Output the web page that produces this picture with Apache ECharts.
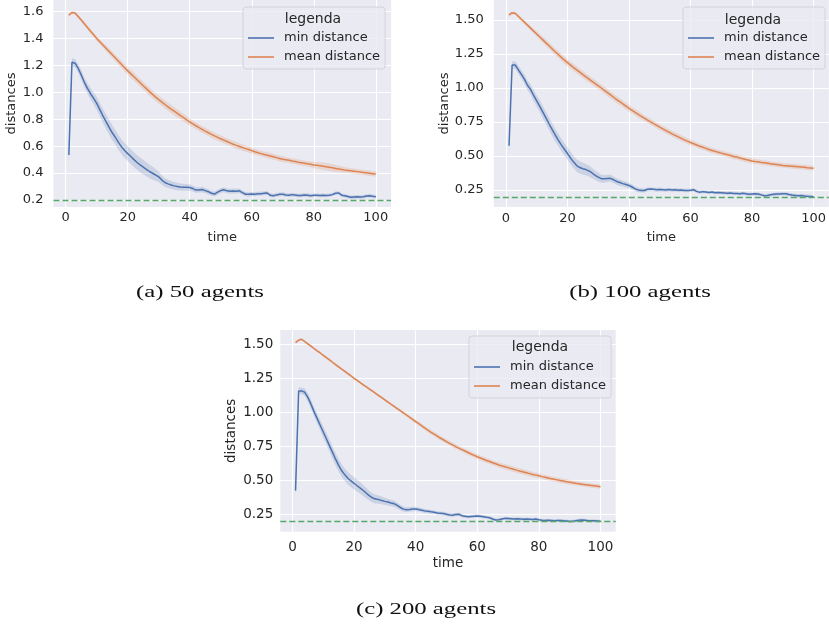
<!DOCTYPE html>
<html><head><meta charset="utf-8">
<script src="https://cdn.jsdelivr.net/npm/echarts@6/dist/echarts.min.js"></script>
<style>html,body{margin:0;padding:0;background:#fff}#c{width:829px;height:632px}</style>
</head><body><div id="c"></div><script>
const time = [1,2,3,4,5,6,7,8,9,10,11,12,13,14,15,16,17,18,19,20,21,22,23,24,25,26,27,28,29,30,31,32,33,34,35,36,37,38,39,40,41,42,43,44,45,46,47,48,49,50,51,52,53,54,55,56,57,58,59,60,61,62,63,64,65,66,67,68,69,70,71,72,73,74,75,76,77,78,79,80,81,82,83,84,85,86,87,88,89,90,91,92,93,94,95,96,97,98,99,100];
const xTicks = [0,20,40,60,80,100];
const yTicksA = [0.2,0.4,0.6,0.8,1.0,1.2,1.4,1.6];
const yTicksBC = [0.25,0.5,0.75,1.0,1.25,1.5];
const seriesNames = ['min distance','mean distance'];
const legendTitle = 'legenda';
const xName = 'time', yName = 'distances';
const captions = ['(a) 50 agents','(b) 100 agents','(c) 200 agents'];
const threshold = 0.2;

// (a) 50 agents
const meanA = [1.575,1.594,1.59,1.565,1.538,1.51,1.483,1.455,1.428,1.40,
1.376,1.352,1.328,1.304,1.28,1.256,1.232,1.208,1.184,1.16,
1.138,1.116,1.094,1.072,1.05,1.028,1.006,0.985,0.965,0.946,
0.928,0.91,0.893,0.876,0.86,0.844,0.828,0.812,0.796,0.78,
0.766,0.752,0.738,0.725,0.712,0.7,0.688,0.677,0.666,0.655,
0.645,0.635,0.625,0.615,0.606,0.598,0.59,0.582,0.575,0.567,
0.559,0.552,0.545,0.539,0.533,0.527,0.521,0.515,0.509,0.503,
0.499,0.495,0.49,0.486,0.481,0.477,0.473,0.469,0.465,0.461,
0.458,0.455,0.451,0.447,0.443,0.439,0.435,0.431,0.427,0.423,
0.42,0.417,0.414,0.411,0.408,0.405,0.402,0.399,0.396,0.393];
const meanBandA = [0.012,0.012,0.012,0.014,0.014,0.016,0.016,0.018,0.018,0.02,
0.02,0.02,0.022,0.022,0.024,0.024,0.026,0.026,0.028,0.028,
0.03,0.03,0.03,0.03,0.03,0.03,0.03,0.03,0.03,0.03,
0.03,0.03,0.03,0.03,0.03,0.03,0.03,0.03,0.028,0.028,
0.026,0.026,0.026,0.026,0.025,0.025,0.025,0.025,0.025,0.025,
0.025,0.025,0.025,0.025,0.025,0.025,0.024,0.024,0.024,0.022,
0.022,0.022,0.022,0.022,0.022,0.022,0.022,0.022,0.022,0.022,
0.02,0.02,0.02,0.02,0.02,0.02,0.02,0.02,0.022,0.024,
0.025,0.026,0.028,0.028,0.028,0.028,0.026,0.025,0.024,0.022,
0.02,0.02,0.02,0.02,0.02,0.02,0.02,0.02,0.02,0.02];
const minA = [0.535,1.224,1.217,1.18,1.13,1.075,1.03,0.99,0.955,0.918,
0.872,0.826,0.782,0.74,0.7,0.665,0.628,0.595,0.568,0.545,
0.523,0.5,0.479,0.461,0.444,0.428,0.412,0.399,0.386,0.372,
0.348,0.33,0.32,0.312,0.305,0.3,0.296,0.294,0.294,0.293,
0.285,0.274,0.275,0.278,0.27,0.262,0.25,0.244,0.258,0.27,
0.276,0.268,0.265,0.267,0.266,0.268,0.255,0.243,0.242,0.244,
0.243,0.247,0.246,0.25,0.252,0.235,0.232,0.238,0.242,0.243,
0.238,0.236,0.24,0.237,0.233,0.234,0.238,0.236,0.232,0.235,
0.236,0.233,0.236,0.234,0.236,0.24,0.25,0.253,0.236,0.232,
0.226,0.22,0.223,0.224,0.222,0.225,0.23,0.232,0.228,0.225];
const minBandA = [0.1,0.03,0.03,0.032,0.035,0.038,0.04,0.042,0.045,0.048,
0.05,0.052,0.055,0.055,0.055,0.055,0.055,0.055,0.055,0.055,
0.055,0.055,0.055,0.055,0.055,0.052,0.05,0.048,0.045,0.04,
0.035,0.032,0.03,0.03,0.028,0.028,0.026,0.026,0.025,0.024,
0.022,0.02,0.02,0.02,0.02,0.02,0.018,0.018,0.018,0.018,
0.018,0.018,0.018,0.018,0.018,0.018,0.016,0.016,0.016,0.016,
0.015,0.015,0.015,0.015,0.015,0.015,0.014,0.014,0.014,0.014,
0.014,0.014,0.014,0.014,0.014,0.014,0.014,0.014,0.014,0.014,
0.013,0.013,0.013,0.013,0.013,0.013,0.013,0.013,0.013,0.013,
0.013,0.013,0.013,0.013,0.013,0.013,0.013,0.013,0.013,0.013];

// (b) 100 agents
const meanB = [1.537,1.552,1.549,1.527,1.505,1.484,1.462,1.44,1.418,1.397,
1.375,1.354,1.332,1.311,1.289,1.267,1.246,1.225,1.205,1.186,
1.168,1.15,1.133,1.116,1.099,1.082,1.065,1.049,1.032,1.016,
1.0,0.983,0.966,0.949,0.932,0.915,0.899,0.883,0.867,0.851,
0.836,0.821,0.806,0.792,0.778,0.764,0.751,0.738,0.725,0.712,
0.699,0.687,0.675,0.663,0.652,0.641,0.63,0.619,0.609,0.599,
0.59,0.581,0.572,0.564,0.556,0.548,0.541,0.534,0.527,0.521,
0.515,0.509,0.503,0.497,0.492,0.486,0.48,0.474,0.469,0.464,
0.46,0.457,0.453,0.45,0.447,0.443,0.44,0.437,0.434,0.431,
0.429,0.427,0.425,0.423,0.421,0.419,0.417,0.414,0.412,0.41];
const meanBandB = [0.012,0.012,0.012,0.014,0.014,0.016,0.016,0.018,0.018,0.02,
0.022,0.022,0.024,0.024,0.025,0.025,0.026,0.026,0.026,0.026,
0.026,0.026,0.026,0.026,0.026,0.026,0.026,0.026,0.026,0.026,
0.026,0.026,0.026,0.026,0.026,0.026,0.025,0.025,0.025,0.025,
0.024,0.024,0.024,0.024,0.022,0.022,0.022,0.022,0.022,0.022,
0.022,0.022,0.022,0.022,0.022,0.022,0.022,0.022,0.022,0.022,
0.02,0.02,0.02,0.02,0.02,0.02,0.02,0.02,0.02,0.02,
0.02,0.02,0.02,0.02,0.02,0.02,0.02,0.02,0.02,0.02,
0.018,0.018,0.018,0.018,0.018,0.018,0.018,0.018,0.018,0.018,
0.018,0.018,0.018,0.018,0.018,0.018,0.018,0.018,0.018,0.018];
const minB = [0.576,1.169,1.169,1.135,1.1,1.065,1.02,0.99,0.945,0.905,
0.865,0.822,0.78,0.737,0.695,0.655,0.617,0.582,0.55,0.518,
0.485,0.455,0.43,0.415,0.406,0.4,0.39,0.375,0.358,0.345,
0.333,0.332,0.335,0.336,0.325,0.313,0.305,0.297,0.29,0.283,
0.272,0.258,0.25,0.247,0.246,0.255,0.257,0.255,0.252,0.254,
0.252,0.25,0.253,0.25,0.252,0.249,0.25,0.247,0.246,0.248,
0.252,0.24,0.234,0.238,0.236,0.232,0.235,0.23,0.232,0.23,
0.228,0.226,0.228,0.225,0.225,0.222,0.226,0.222,0.218,0.22,
0.222,0.22,0.214,0.208,0.21,0.215,0.218,0.22,0.221,0.223,
0.222,0.217,0.213,0.21,0.207,0.209,0.206,0.204,0.203,0.201];
const minBandB = [0.06,0.028,0.028,0.03,0.032,0.034,0.036,0.038,0.04,0.042,
0.044,0.046,0.046,0.046,0.046,0.046,0.046,0.046,0.046,0.046,
0.046,0.046,0.046,0.046,0.044,0.042,0.04,0.038,0.035,0.032,
0.03,0.028,0.027,0.026,0.025,0.024,0.023,0.022,0.021,0.02,
0.019,0.018,0.017,0.016,0.015,0.014,0.014,0.014,0.014,0.014,
0.013,0.013,0.013,0.013,0.013,0.013,0.013,0.013,0.013,0.013,
0.012,0.012,0.012,0.012,0.012,0.012,0.012,0.012,0.012,0.012,
0.012,0.012,0.012,0.012,0.012,0.012,0.012,0.012,0.012,0.012,
0.012,0.012,0.012,0.012,0.012,0.012,0.012,0.012,0.012,0.012,
0.012,0.012,0.012,0.012,0.012,0.012,0.012,0.012,0.012,0.012];

// (c) 200 agents
const meanC = [1.512,1.53,1.537,1.52,1.503,1.486,1.469,1.452,1.436,1.419,
1.402,1.385,1.368,1.351,1.334,1.317,1.301,1.284,1.267,1.25,
1.234,1.218,1.202,1.186,1.17,1.155,1.139,1.123,1.107,1.091,
1.075,1.059,1.043,1.027,1.012,0.996,0.98,0.964,0.948,0.932,
0.916,0.9,0.884,0.868,0.853,0.839,0.825,0.811,0.798,0.785,
0.772,0.76,0.748,0.737,0.726,0.715,0.704,0.693,0.683,0.673,
0.664,0.655,0.646,0.638,0.629,0.621,0.613,0.606,0.599,0.593,
0.586,0.58,0.573,0.567,0.561,0.555,0.549,0.543,0.538,0.533,
0.527,0.522,0.517,0.512,0.507,0.503,0.498,0.494,0.49,0.486,
0.482,0.478,0.475,0.471,0.468,0.465,0.462,0.459,0.456,0.453];
const meanBandC = [0.008,0.008,0.008,0.008,0.009,0.009,0.009,0.009,0.01,0.01,
0.01,0.01,0.01,0.01,0.01,0.01,0.01,0.01,0.01,0.01,
0.01,0.01,0.01,0.01,0.01,0.01,0.01,0.01,0.01,0.01,
0.011,0.011,0.011,0.011,0.012,0.012,0.012,0.013,0.013,0.014,
0.014,0.015,0.015,0.016,0.016,0.016,0.017,0.017,0.017,0.017,
0.017,0.017,0.017,0.017,0.017,0.018,0.018,0.018,0.018,0.018,
0.018,0.018,0.018,0.018,0.018,0.018,0.02,0.02,0.02,0.02,
0.02,0.02,0.02,0.02,0.02,0.02,0.02,0.02,0.02,0.02,
0.018,0.018,0.018,0.018,0.018,0.018,0.018,0.018,0.018,0.018,
0.016,0.016,0.016,0.016,0.016,0.016,0.016,0.016,0.016,0.016];
const minC = [0.424,1.157,1.157,1.147,1.11,1.06,1.005,0.955,0.905,0.855,
0.805,0.755,0.705,0.655,0.61,0.57,0.54,0.515,0.495,0.478,
0.46,0.443,0.425,0.405,0.385,0.37,0.362,0.358,0.352,0.345,
0.34,0.333,0.328,0.315,0.3,0.288,0.284,0.286,0.289,0.289,
0.285,0.28,0.275,0.272,0.268,0.265,0.26,0.258,0.256,0.25,
0.245,0.243,0.248,0.25,0.24,0.235,0.232,0.234,0.236,0.238,
0.236,0.232,0.228,0.225,0.215,0.208,0.21,0.215,0.22,0.219,
0.218,0.215,0.217,0.215,0.213,0.216,0.214,0.212,0.215,0.21,
0.206,0.205,0.207,0.205,0.203,0.205,0.204,0.202,0.2,0.197,
0.198,0.203,0.206,0.208,0.206,0.203,0.202,0.203,0.201,0.199];
const minBandC = [0.06,0.025,0.025,0.028,0.03,0.032,0.034,0.036,0.038,0.04,
0.042,0.044,0.046,0.046,0.046,0.046,0.046,0.046,0.046,0.046,
0.044,0.042,0.04,0.038,0.036,0.034,0.032,0.03,0.028,0.026,
0.025,0.024,0.023,0.022,0.02,0.019,0.018,0.017,0.016,0.016,
0.015,0.015,0.015,0.014,0.014,0.013,0.013,0.013,0.013,0.013,
0.012,0.012,0.012,0.012,0.012,0.012,0.012,0.012,0.012,0.012,
0.011,0.011,0.011,0.011,0.011,0.011,0.011,0.011,0.011,0.011,
0.011,0.011,0.011,0.011,0.011,0.011,0.011,0.011,0.011,0.011,
0.011,0.011,0.011,0.011,0.011,0.011,0.011,0.011,0.011,0.011,
0.011,0.011,0.011,0.011,0.011,0.011,0.011,0.011,0.011,0.011];

const BLUE = '#4C72B0', ORANGE = '#DD8452', GREEN = '#55A868', TXT = '#262626', FONT = 'DejaVu Sans', BG = '#EAEAF2';

const panels = [
  {left:53.5, top:0, width:337.6, height:207, ymin:0.148, ymax:1.687, yticks:yTicksA, dec:1,
   min:minA, minBand:minBandA, mean:meanA, meanBand:meanBandA,
   legLeft:243, legTop:7, ltX:313, ltY:19, yGap:35, xGap:24, xMargin:4, yMargin:10, fs:13,
   capX:200, capY:293},
  {left:493.8, top:0, width:337.6, height:207, ymin:0.125, ymax:1.647, yticks:yTicksBC, dec:2,
   min:minB, minBand:minBandB, mean:meanB, meanBand:meanBandB,
   legLeft:683, legTop:7, ltX:753, ltY:20, yGap:40, xGap:24, xMargin:5, yMargin:10, fs:13,
   capX:640, capY:293},
  {left:280.3, top:330, width:335.4, height:201.7, ymin:0.122, ymax:1.605, yticks:yTicksBC, dec:2,
   min:minC, minBand:minBandC, mean:meanC, meanBand:meanBandC,
   legLeft:469, legTop:336, ltX:540, ltY:347, yGap:42, xGap:25, xMargin:9, yMargin:7, fs:13.5,
   capX:426, capY:610}
];

const pairs = v => time.map((t,i) => [t, v[i]]);

// confidence band drawn as one polygon through the axis scales
function bandSeries(i, v, b, color) {
  const data = time.map((t,k) => [t, +(v[k]-b[k]).toFixed(4), +(v[k]+b[k]).toFixed(4)]);
  return {type:'custom', xAxisIndex:i, yAxisIndex:i, silent:true, z:1, animation:false,
    data, encode:{x:0, y:[1,2]},
    renderItem:(params, api) => {
      if (params.dataIndex !== 0) return null;
      const up = data.map(d => api.coord([d[0], d[2]]));
      const dn = data.map(d => api.coord([d[0], d[1]])).reverse();
      return {type:'polygon', shape:{points: up.concat(dn)}, style:{fill:color}};
    }};
}

const grid = [], xAxis = [], yAxis = [], series = [], legend = [], graphic = [];
panels.forEach((p, i) => {
  grid.push({left:p.left, top:p.top, width:p.width, height:p.height, show:true, backgroundColor:BG, borderWidth:0, containLabel:false});
  xAxis.push({type:'value', gridIndex:i, min:-3.95, max:104.95,
    name:xName, nameLocation:'middle', nameGap:p.xGap, nameTextStyle:{fontFamily:FONT, fontSize:p.fs, color:TXT},
    axisLine:{show:false}, axisTick:{show:false, customValues:xTicks},
    axisLabel:{customValues:xTicks, margin:p.xMargin, fontFamily:FONT, fontSize:p.fs, color:TXT},
    splitLine:{show:true, lineStyle:{color:'#ffffff', width:1.1}}});
  yAxis.push({type:'value', gridIndex:i, min:p.ymin, max:p.ymax,
    name:yName, nameLocation:'middle', nameGap:p.yGap, nameRotate:90, nameTextStyle:{fontFamily:FONT, fontSize:p.fs, color:TXT},
    axisLine:{show:false}, axisTick:{show:false, customValues:p.yticks},
    axisLabel:{customValues:p.yticks, margin:p.yMargin, fontFamily:FONT, fontSize:p.fs, color:TXT,
      formatter: v => Number(v).toFixed(p.dec)},
    splitLine:{show:true, lineStyle:{color:'#ffffff', width:1.1}}});
  series.push(bandSeries(i, p.min, p.minBand, 'rgba(76,114,176,0.2)'));
  series.push(bandSeries(i, p.mean, p.meanBand, 'rgba(221,132,82,0.2)'));
  const common = {xAxisIndex:i, yAxisIndex:i, type:'line', symbol:'none', silent:true, animation:false};
  series.push(Object.assign({}, common, {name:seriesNames[0], data:pairs(p.min), color:BLUE, lineStyle:{color:BLUE, width:1.5}, z:3}));
  series.push(Object.assign({}, common, {name:seriesNames[1], data:pairs(p.mean), color:ORANGE, lineStyle:{color:ORANGE, width:1.5}, z:3,
    markLine:{silent:true, symbol:'none', label:{show:false}, animation:false,
      lineStyle:{color:GREEN, type:[6,3], width:1.3}, data:[{yAxis:threshold}]}}));
  legend.push({data:seriesNames, orient:'vertical', left:p.legLeft, top:p.legTop,
    padding:[24,5,5,5], itemGap:5, itemWidth:26, itemHeight:1.6, icon:'rect',
    itemStyle:{borderWidth:0},
    backgroundColor:'rgba(234,234,242,0.8)', borderColor:'rgba(208,208,216,0.9)', borderWidth:1, borderRadius:3,
    selectedMode:false, z:10,
    textStyle:{fontFamily:FONT, fontSize:13, color:TXT, lineHeight:14, padding:[0,0,0,5]}});
  graphic.push({type:'text', x:p.ltX, y:p.ltY, z:100,
    style:{text:legendTitle, fontFamily:FONT, fontSize:14, fill:TXT, align:'center', verticalAlign:'middle'}});
  graphic.push({type:'text', x:p.capX, y:p.capY, scaleX:1.5, z:100,
    style:{text:captions[i], fontFamily:'Liberation Serif', fontSize:16.5, fill:'#111', align:'center', verticalAlign:'middle'}});
});

const chart = echarts.init(document.getElementById('c'), null, {renderer:'canvas'});
chart.setOption({animation:false, backgroundColor:'#ffffff', grid, xAxis, yAxis, series, legend, graphic});
</script></body></html>
